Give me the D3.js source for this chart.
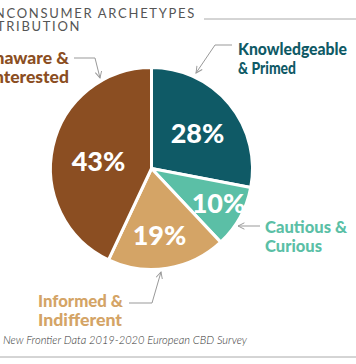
<!DOCTYPE html>
<html><head><meta charset="utf-8">
<script src="https://cdn.jsdelivr.net/npm/d3@7"></script>
<style>
html,body{margin:0;padding:0;background:#fff;overflow:hidden}
svg{display:block}
</style></head>
<body>
<svg id="c" width="356" height="364"></svg>
<script>
const categories = ["Knowledgeable & Primed", "Cautious & Curious", "Informed & Indifferent", "Unaware & Uninterested"];
const values = [28, 10, 19, 43];
const valueLabels = ["28%", "10%", "19%", "43%"];
const colors = ["#0f5a66", "#5bbfa6", "#d4a466", "#8b4e22"];
const titleLines = ["NONCONSUMER ARCHETYPES", "DISTRIBUTION"];
const source = "New Frontier Data 2019-2020 European CBD Survey";

const svg = d3.select("#c");
const cx = 151.5, cy = 168.5, r = 101;

// title
const tfont = "Lato, 'Open Sans', sans-serif";
const t1 = svg.append("text").attr("y", 18).attr("font-family", tfont).attr("font-size", 13)
  .attr("letter-spacing", 1.7).attr("fill", "#555").text(titleLines[0]);
const len1 = t1.node().getComputedTextLength();
const tx = 196 - len1;
t1.attr("x", tx);
svg.append("text").attr("x", tx).attr("y", 31).attr("font-family", tfont).attr("font-size", 13)
  .attr("letter-spacing", 1.7).attr("fill", "#555").text(titleLines[1]);
svg.append("line").attr("x1", 204).attr("x2", 356).attr("y1", 19).attr("y2", 19)
  .attr("stroke", "#aaa").attr("stroke-width", 1);

// pie
const pie = d3.pie().sort(null).value(d => d)(values);
const arc = d3.arc().innerRadius(0).outerRadius(r);
const g = svg.append("g").attr("transform", `translate(${cx},${cy})`);
g.selectAll("path").data(pie).join("path")
  .attr("d", arc).attr("fill", (d, i) => colors[i])
  .attr("stroke", "#fff").attr("stroke-width", 3).attr("stroke-linejoin", "round");

const labelPos = [[46, -35], [67, 35], [8, 67], [-53, -7]];
g.selectAll("text.v").data(pie).join("text").attr("class", "v")
  .attr("x", (d, i) => labelPos[i][0]).attr("y", (d, i) => labelPos[i][1])
  .attr("text-anchor", "middle").attr("dy", "0.36em")
  .attr("font-family", tfont).attr("font-weight", 900).attr("font-size", 27)
  .attr("fill", "#fff").text((d, i) => valueLabels[i]);

// category labels
const lab = [
  {lines: ["Knowledgeable", "& Primed"], x: 238, y: 55, anchor: "start", w: [109, 58]},
  {lines: ["Cautious &", "Curious"], x: 265, y: 233, anchor: "start", w: [82, 57]},
  {lines: ["Informed &", "Indifferent"], x: 38, y: 307, anchor: "start", w: [85, 84]},
  {lines: ["Unaware &", "Uninterested"], x: 69, y: 64, anchor: "end", w: null}
];
lab.forEach((L, i) => {
  L.lines.forEach((s, j) => {
    const t = svg.append("text").attr("x", L.x).attr("y", L.y + j * 18.5)
      .attr("text-anchor", L.anchor).attr("font-family", tfont).attr("font-weight", 900)
      .attr("font-size", 17.5).attr("fill", colors[i]).text(s);
    if (L.w) t.attr("textLength", L.w[j]).attr("lengthAdjust", "spacingAndGlyphs");
  });
});

// arrows
const defs = svg.append("defs");
defs.append("marker").attr("id", "ah").attr("viewBox", "0 0 10 10").attr("refX", 9).attr("refY", 5)
  .attr("markerWidth", 8).attr("markerHeight", 8).attr("orient", "auto")
  .append("path").attr("d", "M1,1 L9,5 L1,9").attr("fill", "none").attr("stroke", "#999").attr("stroke-width", 1.2);
const arrows = [
  [[232, 45], [215, 45], [196, 73]],
  [[260, 226], [238, 226]],
  [[129, 303], [152, 303], [161, 272]],
  [[74, 58], [95, 58], [100, 78]]
];
const line = d3.line();
arrows.forEach(a => {
  svg.append("path").attr("d", line(a)).attr("fill", "none").attr("stroke", "#999")
    .attr("stroke-width", 1).attr("marker-end", "url(#ah)");
});

// source
svg.append("text").attr("x", 3).attr("y", 344).attr("font-family", tfont).attr("font-style", "italic")
  .attr("font-weight", 300).attr("font-size", 11.5).attr("fill", "#333")
  .attr("textLength", 244).attr("lengthAdjust", "spacingAndGlyphs").text(source);
svg.append("line").attr("x1", 0).attr("x2", 356).attr("y1", 357).attr("y2", 357)
  .attr("stroke", "#aaa").attr("stroke-width", 1);
</script>
</body></html>
